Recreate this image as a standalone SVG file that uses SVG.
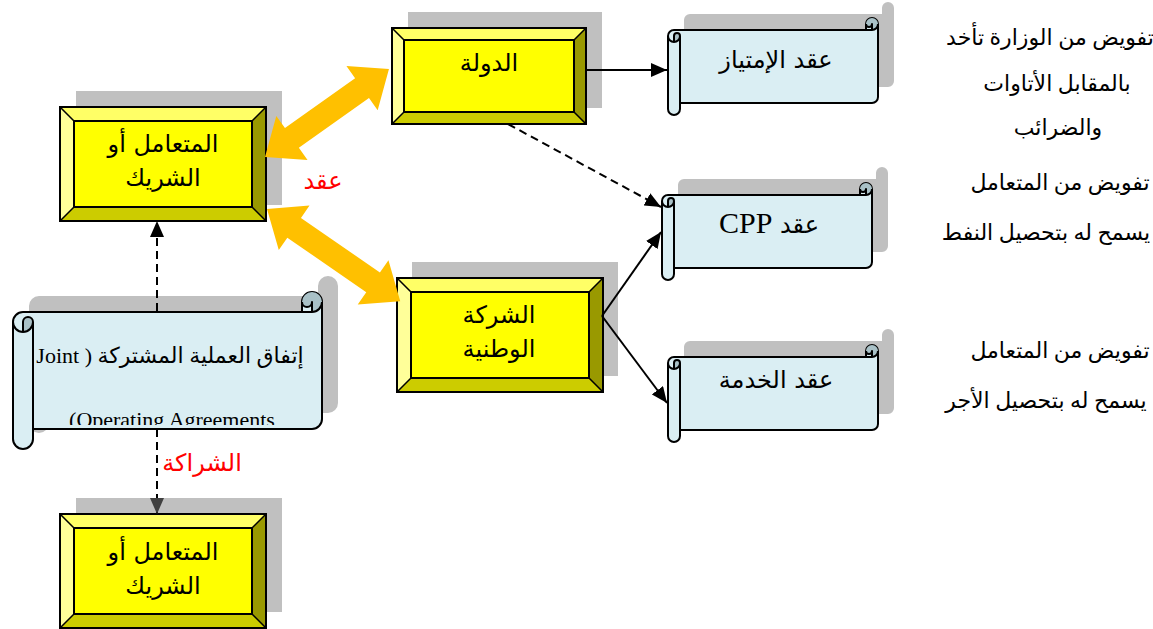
<svg xmlns="http://www.w3.org/2000/svg" width="1153" height="629" viewBox="0 0 1153 629">
<style>
.shadow{fill:#c0c0c0}
.face{fill:#ffff00;stroke:#000;stroke-width:2}
.bt{fill:#ffff66}
.bl{fill:#ffff99}
.br{fill:#999900}
.bb{fill:#cccc00}
.edge{fill:none;stroke:#000;stroke-width:1.5}
.frame{fill:none;stroke:#000;stroke-width:2}
.scroll{fill:#daeef3;stroke:#000;stroke-width:2;stroke-linejoin:round}
.curl{fill:#a9c1c7}
.detail{fill:none;stroke:#000;stroke-width:2;stroke-linejoin:round}
.lbl{font-family:"DejaVu Sans",sans-serif;font-size:24px;fill:#000;text-anchor:middle}
.naskh{font-family:"Liberation Serif","DejaVu Sans",serif;font-size:22px;fill:#000;text-anchor:middle}
.latin{font-family:"Liberation Serif",serif;font-size:30px}
.red{fill:#ff0000}
.link{fill:none;stroke:#000;stroke-width:2}
.dash{stroke-dasharray:8 5}
.band{fill:#ffc000}
</style>
<defs>
  <marker id="ah" viewBox="0 0 16 14" refX="16" refY="7" markerWidth="16" markerHeight="14" markerUnits="userSpaceOnUse" orient="auto">
    <path d="M0,0 L16,7 L0,14 Z" fill="#000"/>
  </marker>
  <marker id="ahg" viewBox="0 0 16 14" refX="16" refY="7" markerWidth="16" markerHeight="14" markerUnits="userSpaceOnUse" orient="auto">
    <path d="M0,0 L16,7 L0,14 Z" fill="#404040"/>
  </marker>

  <!-- bevelled box 206 x 114 -->
  <g id="bevelBig">
    <polygon class="bt" points="0,0 206,0 192,14 14,14"/>
    <polygon class="bl" points="0,0 14,14 14,100 0,114"/>
    <polygon class="br" points="206,0 206,114 192,100 192,14"/>
    <polygon class="bb" points="0,114 14,100 192,100 206,114"/>
    <rect class="face" x="14" y="14" width="178" height="86"/>
    <path class="edge" d="M0,0 L14,14 M206,0 L192,14 M206,114 L192,100 M0,114 L14,100"/>
    <rect class="frame" x="0" y="0" width="206" height="114"/>
  </g>
  <!-- bevelled box 194 x 96 -->
  <g id="bevelSmall">
    <polygon class="bt" points="0,0 194,0 182,12 12,12"/>
    <polygon class="bl" points="0,0 12,12 12,84 0,96"/>
    <polygon class="br" points="194,0 194,96 182,84 182,12"/>
    <polygon class="bb" points="0,96 12,84 182,84 194,96"/>
    <rect class="face" x="12" y="12" width="170" height="72"/>
    <path class="edge" d="M0,0 L12,12 M194,0 L182,12 M194,96 L182,84 M0,96 L12,84"/>
    <rect class="frame" x="0" y="0" width="194" height="96"/>
  </g>

  <!-- horizontal scroll 210 x 97 -->
  <path id="scrollSmallOutline" d="M0,18 A6,6 0 0 1 6,12 L198,12 L198,6 A6,6 0 0 1 210,6 L210,79 A6,6 0 0 1 204,85 L12,85 L12,91 A6,6 0 0 1 0,91 Z"/>
  <g id="scrollSmall">
    <use href="#scrollSmallOutline" class="scroll"/>
    <path class="curl" d="M6,24 A6,6 0 0 0 12,18 A3,3 0 0 0 6,18 Z M204,12 A6,6 0 1 0 198,6 A3,3 0 0 0 204,6 Z"/>
    <path class="detail" d="M198,12 L204,12 A6,6 0 0 0 210,6 M204,12 L204,6 A3,3 0 0 1 198,6 M6,24 L6,18 A3,3 0 0 1 12,18 A6,6 0 0 1 0,18 M12,18 L12,85"/>
  </g>

  <!-- horizontal scroll 309 x 157 -->
  <path id="scrollLargeOutline" d="M0,30 A10,10 0 0 1 10,20 L289,20 L289,10 A10,10 0 0 1 309,10 L309,127 A10,10 0 0 1 299,137 L20,137 L20,147 A10,10 0 0 1 0,147 Z"/>

  <clipPath id="jvClip">
    <rect x="34" y="312" width="286" height="113"/>
  </clipPath>
</defs>

<!-- participant / partner (top) -->
<g id="partner-top">
  <rect class="shadow" x="76" y="91" width="206" height="114"/>
  <use href="#bevelBig" x="60" y="107"/>
  <text class="lbl" x="163" y="152" direction="rtl">المتعامل أو</text>
  <text class="lbl" x="163" y="186" direction="rtl">الشريك</text>
</g>

<!-- the state -->
<g id="state">
  <rect class="shadow" x="408" y="12" width="194" height="96"/>
  <use href="#bevelSmall" x="392" y="28"/>
  <text class="lbl" x="489" y="71" direction="rtl">الدولة</text>
</g>

<!-- national company -->
<g id="national-company">
  <rect class="shadow" x="412" y="262" width="206" height="114"/>
  <use href="#bevelBig" x="397" y="278"/>
  <text class="lbl" x="499" y="323" direction="rtl">الشركة</text>
  <text class="lbl" x="499" y="357" direction="rtl">الوطنية</text>
</g>

<!-- participant / partner (bottom) -->
<g id="partner-bottom">
  <rect class="shadow" x="76" y="498" width="206" height="114"/>
  <use href="#bevelBig" x="60" y="514"/>
  <text class="lbl" x="163" y="560" direction="rtl">المتعامل أو</text>
  <text class="lbl" x="163" y="594" direction="rtl">الشريك</text>
</g>

<!-- concession contract -->
<g id="concession">
  <use href="#scrollSmallOutline" class="shadow" x="684" y="2"/>
  <use href="#scrollSmall" x="668" y="18"/>
  <text class="lbl" x="776" y="68" direction="rtl">عقد الإمتياز</text>
</g>

<!-- CPP contract -->
<g id="cpp">
  <use href="#scrollSmallOutline" class="shadow" x="678" y="167"/>
  <use href="#scrollSmall" x="662" y="183"/>
  <text class="lbl" x="769" y="233" direction="rtl">عقد <tspan class="latin">CPP</tspan></text>
</g>

<!-- service contract -->
<g id="service">
  <use href="#scrollSmallOutline" class="shadow" x="684" y="329"/>
  <use href="#scrollSmall" x="668" y="345"/>
  <text class="lbl" x="776" y="388" direction="rtl">عقد الخدمة</text>
</g>

<!-- joint operating agreement -->
<g id="joint-operating">
  <use href="#scrollLargeOutline" class="shadow" x="29" y="276"/>
  <g transform="translate(13,292)">
    <use href="#scrollLargeOutline" class="scroll"/>
    <path class="curl" d="M10,40 A10,10 0 0 0 20,30 A5,5 0 0 0 10,30 Z M299,20 A10,10 0 1 0 289,10 A5,5 0 0 0 299,10 Z"/>
    <path class="detail" d="M289,20 L299,20 A10,10 0 0 0 309,10 M299,20 L299,10 A5,5 0 0 1 289,10 M10,40 L10,30 A5,5 0 0 1 20,30 A10,10 0 0 1 0,30 M20,30 L20,137"/>
  </g>
  <g clip-path="url(#jvClip)">
    <text class="naskh" x="170" y="363" font-size="23" direction="rtl">إتفاق العملية المشتركة ( Joint</text>
    <text class="naskh" x="172" y="427" direction="rtl">Operating Agreements)</text>
  </g>
</g>

<!-- connectors -->
<g id="connectors">
  <polygon class="band" transform="translate(265,157) rotate(-35.36)" points="0,0 33,-27 33,-12 119,-12 119,-27 152,0 119,27 119,12 33,12 33,27"/>
  <polygon class="band" transform="translate(267,209) rotate(34.67)" points="0,0 33,-27 33,-12 129,-12 129,-27 162,0 129,27 129,12 33,12 33,27"/>
  <path class="link" d="M586,70 L667,70" marker-end="url(#ah)"/>
  <path class="link dash" d="M508,124 L661,207" marker-end="url(#ah)"/>
  <path class="link" d="M602,316 L661,232" marker-end="url(#ah)"/>
  <path class="link" d="M602,316 L667,403" marker-end="url(#ah)"/>
  <path class="link dash" d="M157,311 L157,221" marker-end="url(#ah)"/>
  <path class="link dash" d="M157,429 L157,514" marker-end="url(#ahg)"/>
  <text class="lbl red" x="323" y="189" font-size="20" direction="rtl">عقد</text>
  <text class="lbl red" x="202" y="471" font-size="22" direction="rtl">الشراكة</text>
</g>

<!-- side notes -->
<g id="notes">
  <text class="naskh" x="1050" y="45" font-size="19.5" direction="rtl">تفويض من الوزارة تأخد</text>
  <text class="naskh" x="1057" y="91" direction="rtl">بالمقابل الأتاوات</text>
  <text class="naskh" x="1058" y="135" direction="rtl">والضرائب</text>
  <text class="naskh" x="1060" y="190" direction="rtl">تفويض من المتعامل</text>
  <text class="naskh" x="1046" y="240" font-size="20.5" direction="rtl">يسمح له بتحصيل النفط</text>
  <text class="naskh" x="1060" y="358" direction="rtl">تفويض من المتعامل</text>
  <text class="naskh" x="1046" y="408" font-size="20.5" direction="rtl">يسمح له بتحصيل الأجر</text>
</g>
</svg>
